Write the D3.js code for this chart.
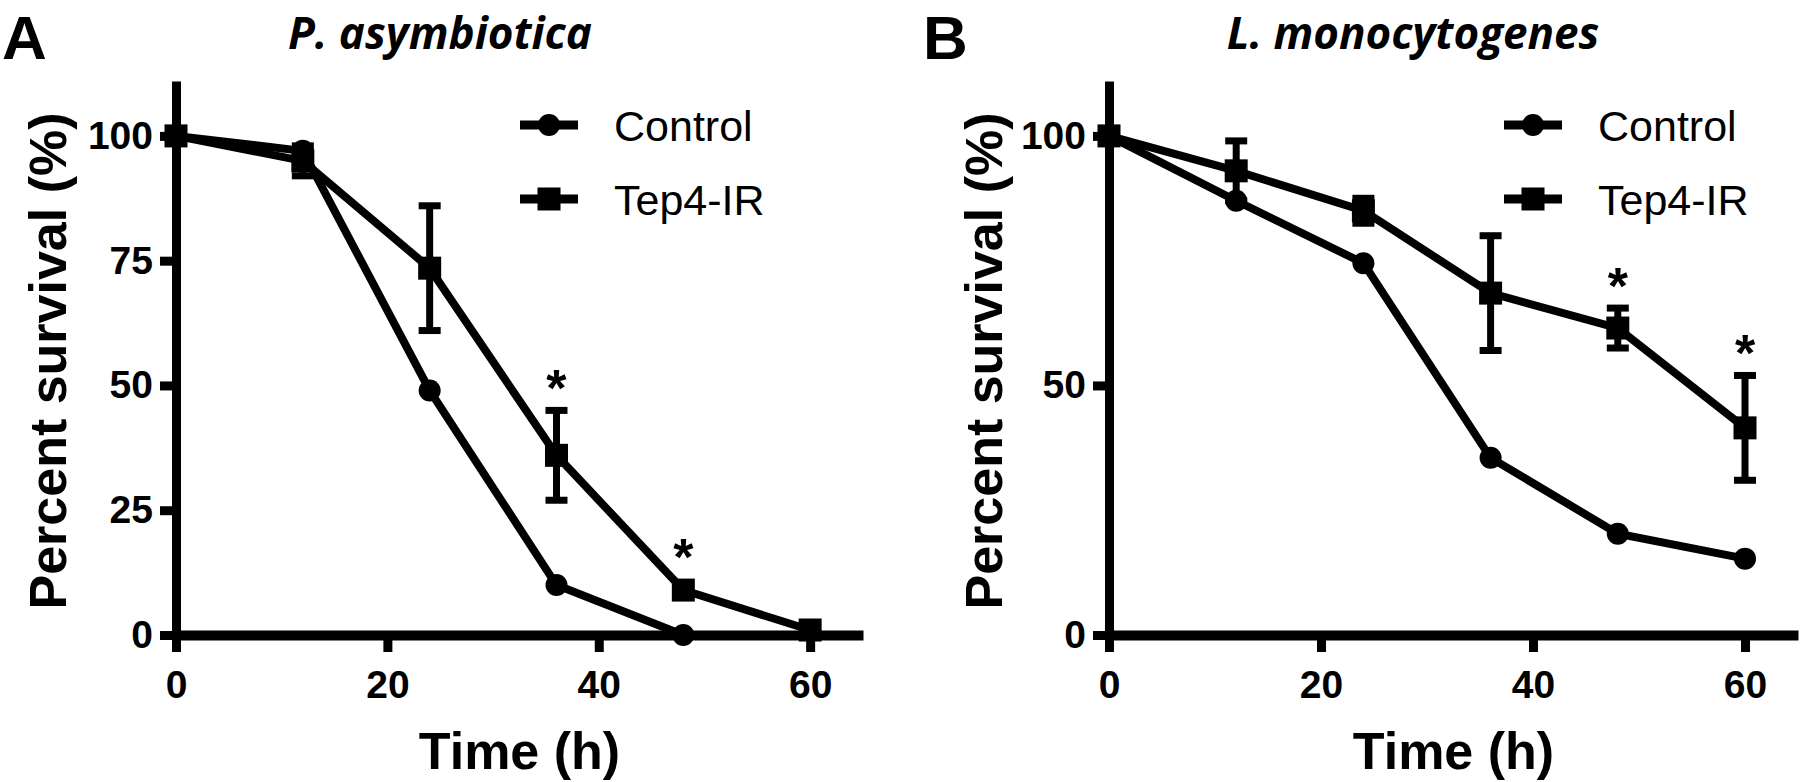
<!DOCTYPE html>
<html><head><meta charset="utf-8">
<script src="https://cdn.jsdelivr.net/npm/d3@7"></script>
<style>body{margin:0;background:#fff}</style>
</head><body>
<svg id="c" width="1800" height="782"></svg>
<script>
// ---------- data ----------
const times = [0, 12, 24, 36, 48, 60];
const xTicks = [0, 20, 40, 60];
const yTicksA = [0, 25, 50, 75, 100];
const yTicksB = [0, 50, 100];
const seriesNames = ["Control", "Tep4-IR"];
const panelLetters = ["A", "B"];
const panelTitles = ["P. asymbiotica", "L. monocytogenes"];
const xTitle = "Time (h)";
const yTitle = "Percent survival (%)";

// Panel A: P. asymbiotica
const aControl = [100, 97, 49, 10, 0, null];
const aTep4 = [100, 95, 73.5, 36, 9, 1];
const aTep4Err = [0, 3, 12.5, 9, 0, 0];
const aStars = [36, 48];

// Panel B: L. monocytogenes
const bControl = [100, 87, 74.5, 35.5, 20.3, 15.3];
const bTep4 = [100, 93, 85, 68.5, 61.5, 41.5];
const bTep4Err = [0, 6, 2.5, 11.5, 4, 10.5];
const bStars = [48, 60];

// ---------- fonts ----------
const sansFont = '"Liberation Sans", Arial, sans-serif';

const svg = d3.select('#c');
const Y0 = 635, YTOP = 81;

function styleTicks(sel) {
  sel.select('.domain').attr('stroke', '#000').attr('stroke-width', 9);
  sel.selectAll('.tick line').attr('stroke', '#000').attr('stroke-width', 9);
  sel.selectAll('.tick text')
    .attr('fill', '#000')
    .style('font-family', sansFont)
    .style('font-weight', 'bold')
    .style('font-size', '39px');
}

function panel(cfg) {
  const g = svg.append('g');
  const x = d3.scaleLinear().domain([0, 65]).range([cfg.x0, cfg.x1]);
  const y = d3.scaleLinear().domain([0, 111]).range([Y0, YTOP]);

  // axes
  const ya = d3.axisLeft(y).tickValues(cfg.yTicks).tickSize(16).tickSizeOuter(0)
    .tickPadding(7).tickFormat(d3.format('d'));
  const gy = g.append('g').attr('transform', `translate(${cfg.x0},0)`).call(ya);
  styleTicks(gy);
  const xa = d3.axisBottom(x).tickValues(xTicks).tickSize(17).tickSizeOuter(0)
    .tickPadding(18).tickFormat(d3.format('d'));
  const gx = g.append('g').attr('transform', `translate(0,${Y0})`).call(xa);
  styleTicks(gx);
  gx.select('.domain').attr('stroke-width', 10);

  // data
  const ctrl = times.map((t, i) => ({ t, v: cfg.control[i] })).filter(d => d.v != null);
  const tep = times.map((t, i) => ({ t, v: cfg.tep4[i], e: cfg.err[i] })).filter(d => d.v != null);
  const line = d3.line().x(d => x(d.t)).y(d => y(d.v));

  g.append('path').datum(ctrl).attr('d', line).attr('fill', 'none')
    .attr('stroke', '#000').attr('stroke-width', 8).attr('stroke-linejoin', 'miter');
  g.append('path').datum(tep).attr('d', line).attr('fill', 'none')
    .attr('stroke', '#000').attr('stroke-width', 8).attr('stroke-linejoin', 'miter');

  // error bars
  const eb = g.append('g').attr('stroke', '#000').attr('stroke-width', 7);
  tep.filter(d => d.e > 0).forEach(d => {
    const cx = x(d.t), yt = y(d.v + d.e), yb = y(d.v - d.e);
    eb.append('line').attr('x1', cx).attr('x2', cx).attr('y1', yt).attr('y2', yb);
    eb.append('line').attr('x1', cx - 11).attr('x2', cx + 11).attr('y1', yt).attr('y2', yt);
    eb.append('line').attr('x1', cx - 11).attr('x2', cx + 11).attr('y1', yb).attr('y2', yb);
  });

  // markers
  g.append('g').selectAll('circle').data(ctrl).join('circle')
    .attr('cx', d => x(d.t)).attr('cy', d => y(d.v)).attr('r', 11).attr('fill', '#000');
  g.append('g').selectAll('rect').data(tep).join('rect')
    .attr('x', d => x(d.t) - 11.5).attr('y', d => y(d.v) - 11.5)
    .attr('width', 23).attr('height', 23).attr('fill', '#000');

  // significance stars
  const fsStar = 52;
  cfg.stars.forEach(t => {
    const i = times.indexOf(t);
    const v = cfg.tep4[i], e = cfg.err[i];
    const top = Math.min(y(v + e), y(v) - 11);
    const cy = top - 34;
    g.append('text').attr('x', x(t)).attr('y', cy + 0.57 * fsStar)
      .attr('text-anchor', 'middle').style('font-family', sansFont)
      .style('font-weight', 'bold').style('font-size', fsStar + 'px').text('*');
  });

  // legend
  const lg = g.append('g');
  const rows = [{ name: seriesNames[0], y: 125, shape: 'circle' }, { name: seriesNames[1], y: 199, shape: 'square' }];
  rows.forEach(r => {
    lg.append('line').attr('x1', cfg.legX).attr('x2', cfg.legX + 58)
      .attr('y1', r.y).attr('y2', r.y).attr('stroke', '#000').attr('stroke-width', 9);
    const mx = cfg.legX + 29;
    if (r.shape === 'circle') lg.append('circle').attr('cx', mx).attr('cy', r.y).attr('r', 11).attr('fill', '#000');
    else lg.append('rect').attr('x', mx - 11.5).attr('y', r.y - 11.5).attr('width', 23).attr('height', 23).attr('fill', '#000');
    lg.append('text').attr('x', cfg.legX + 94).attr('y', r.y + 15.5)
      .style('font-family', sansFont).style('font-size', '43px').text(r.name);
  });

  // titles
  g.append('text').attr('x', cfg.letterX).attr('y', 59)
    .style('font-family', sansFont).style('font-weight', 'bold').style('font-size', '62px').text(cfg.letter);
  g.append('text').attr('x', cfg.titleX).attr('y', 49).attr('text-anchor', 'middle')
    .style('font-family', '"Open Sans", sans-serif').style('font-weight', 'bold').style('font-style', 'italic')
    .style('font-size', '44px').text(cfg.title);
  g.append('text').attr('transform', `translate(${cfg.yTitleX},361) rotate(-90)`)
    .attr('text-anchor', 'middle').style('font-family', sansFont).style('font-weight', 'bold')
    .style('font-size', '52px').text(yTitle);
  g.append('text').attr('x', (cfg.x0 + cfg.x1) / 2).attr('y', 769).attr('text-anchor', 'middle')
    .style('font-family', sansFont).style('font-weight', 'bold').style('font-size', '52px').text(xTitle);
}

panel({ x0: 176, x1: 863, yTicks: yTicksA, control: aControl, tep4: aTep4, err: aTep4Err, stars: aStars,
  legX: 520, letter: panelLetters[0], letterX: 2, title: panelTitles[0], titleX: 440, yTitleX: 66 });
panel({ x0: 1109, x1: 1798, yTicks: yTicksB, control: bControl, tep4: bTep4, err: bTep4Err, stars: bStars,
  legX: 1504, letter: panelLetters[1], letterX: 923, title: panelTitles[1], titleX: 1413, yTitleX: 1002 });
</script>
</body></html>
